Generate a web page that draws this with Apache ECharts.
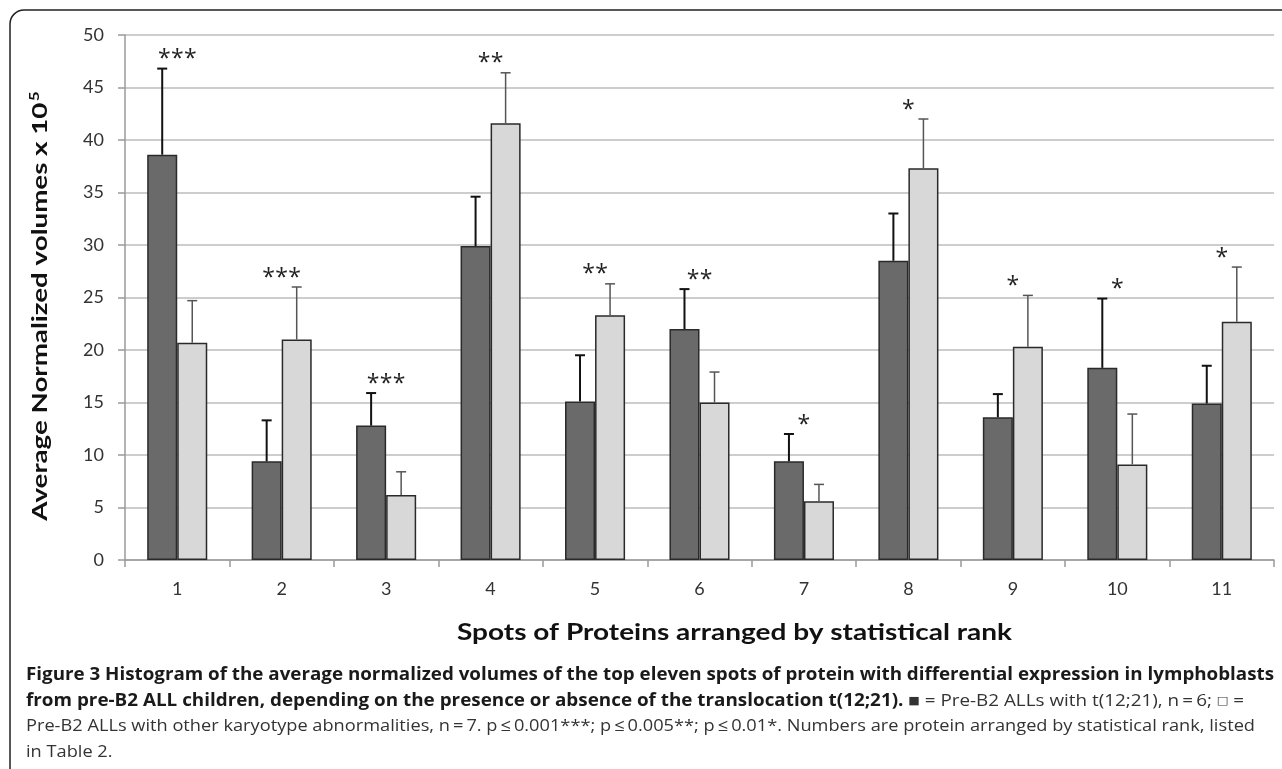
<!DOCTYPE html>
<html><head><meta charset="utf-8">
<script src="https://cdn.jsdelivr.net/npm/echarts@6/dist/echarts.min.js"></script>
<style>html,body{margin:0;padding:0;background:#fff}#c{width:1282px;height:769px}</style>
</head><body><div id="c"></div>
<script>
// ---- data ----
const categories = ['1','2','3','4','5','6','7','8','9','10','11'];
const withTranslocation      = [38.6, 9.4, 12.8, 29.9, 15.1, 22.0, 9.4, 28.5, 13.6, 18.3, 14.9];
const withTranslocationUpper = [46.8, 13.3, 15.9, 34.6, 19.5, 25.8, 12.0, 33.0, 15.8, 24.9, 18.5];
const otherAbnormalities      = [20.7, 21.0, 6.2, 41.6, 23.3, 15.0, 5.6, 37.3, 20.3, 9.1, 22.7];
const otherAbnormalitiesUpper = [24.7, 26.0, 8.4, 46.4, 26.3, 17.9, 7.2, 42.0, 25.2, 13.9, 27.9];
const significance = ['***','***','***','**','**','**','*','*','*','*','*'];
const yMin = 0, yMax = 50, yStep = 5;

const yTitle = 'Average Normalized volumes x 10';
const yTitleSup = '5';
const xTitle = 'Spots of Proteins arranged by statistical rank';
const captionLines = [
  [['b','Figure 3 Histogram of the average normalized volumes of the top eleven spots of protein with differential expression in lymphoblasts']],
  [['b','from pre-B2 ALL children, depending on the presence or absence of the translocation t(12;21).'],['r',' '],['sq','\u25A0'],['r',' = Pre-B2 ALLs with t(12;21), n\u2009=\u20096; '],['sq','\u25A1'],['r',' =']],
  [['r','Pre-B2 ALLs with other karyotype abnormalities, n\u2009=\u20097. p\u2009\u2264\u20090.001***; p\u2009\u2264\u20090.005**; p\u2009\u2264\u20090.01*. Numbers are protein arranged by statistical rank, listed']],
  [['r','in Table 2.']]
];

// ---- layout helpers ----
const GAP = 0.425;
const ctx = document.createElement('canvas').getContext('2d');
function tw(text, font){ ctx.font = font; return ctx.measureText(text).width; }
const CAP_FONTS = {
  b: 'bold 17px "Open Sans"',
  r: '17px "Open Sans"',
  sq: '11px "DejaVu Sans"'
};
function richWidth(tokens){ return tokens.reduce((s,t)=>s+tw(t[1], CAP_FONTS[t[0]]),0); }
function richText(tokens){ return tokens.map(t=>'{'+t[0]+'|'+t[1]+'}').join(''); }
const capRich = {
  b:{font:CAP_FONTS.b, fill:'#1a1a1a'},
  r:{font:CAP_FONTS.r, fill:'#333'},
  sq:{font:CAP_FONTS.sq, fill:'#333'}
};
const capX = 26;
const capTargets = [1248, 1218, 1229, null];
const capY = [675, 701, 726, 752];
let lastScale = 1;
const captionGraphics = captionLines.map((tokens, i) => {
  let s = lastScale;
  if (capTargets[i]) { s = capTargets[i] / richWidth(tokens); lastScale = s; }
  return {type:'text', x:capX, y:capY[i], scaleX:s, silent:true,
    style:{text:richText(tokens), rich:capRich, align:'left', verticalAlign:'middle'}};
});

const yFontA = 'bold 21px Lato', yFontS = 'bold 13px Lato';
const yScale = 428 / (tw(yTitle, yFontA) + tw(yTitleSup, yFontS));
const xFont = 'bold 23px Lato';
const xScale = 555 / tw(xTitle, xFont);

function errSeries(vals, uppers, side, color, lw){
  return {
    type:'custom', z:5, silent:true,
    data: vals.map((v,i)=>[i, v, uppers[i]]),
    encode:{x:0, y:[1,2]},
    renderItem(params, api){
      const i = api.value(0);
      const band = api.size([1,0])[0];
      const bw = band*(1-GAP)/2;
      const c0 = api.coord([i, api.value(1)]);
      const c1 = api.coord([i, api.value(2)]);
      const x = c0[0] + side*bw/2;
      const cap = 5;
      return {type:'group', children:[
        {type:'line', shape:{x1:x,y1:c0[1],x2:x,y2:c1[1]}, style:{stroke:color,lineWidth:lw}},
        {type:'line', shape:{x1:x-cap,y1:c1[1],x2:x+cap,y2:c1[1]}, style:{stroke:color,lineWidth:lw}}
      ]};
    }
  };
}

const STAR_STEP = 13;
const chart = echarts.init(document.getElementById('c'), null, {renderer:'canvas'});
chart.setOption({
  animation:false,
  backgroundColor:'#fff',
  grid:{left:125, right:8, top:35, bottom:209, containLabel:false},
  xAxis:{
    type:'category', data:categories,
    axisLine:{show:true, lineStyle:{color:'#9a9a9a', width:1.5}},
    axisTick:{show:true, length:7, alignWithLabel:false, lineStyle:{color:'#9a9a9a', width:1.5}},
    axisLabel:{fontFamily:'Lato', fontSize:18, color:'#333', margin:20}
  },
  yAxis:{
    type:'value', min:yMin, max:yMax, interval:yStep,
    axisLine:{show:true, lineStyle:{color:'#9a9a9a', width:1.5}},
    axisTick:{show:true, length:7, lineStyle:{color:'#9a9a9a', width:1.5}},
    axisLabel:{fontFamily:'Lato', fontSize:18, color:'#333', margin:21},
    splitLine:{show:true, lineStyle:{color:'#bdbdbd', width:1.5}}
  },
  series:[
    {type:'bar', name:'Pre-B2 ALLs with t(12;21)', data:withTranslocation,
     barGap:'0%', barCategoryGap:(GAP*100)+'%',
     itemStyle:{color:'#6a6a6a', borderColor:'#2a2a2a', borderWidth:1.5}},
    {type:'bar', name:'Pre-B2 ALLs with other karyotype abnormalities', data:otherAbnormalities,
     barGap:'0%', barCategoryGap:(GAP*100)+'%',
     itemStyle:{color:'#d8d8d8', borderColor:'#2a2a2a', borderWidth:1.5}},
    errSeries(withTranslocation, withTranslocationUpper, -1, '#111', 2),
    errSeries(otherAbnormalities, otherAbnormalitiesUpper, 1, '#555', 1.5),
    {type:'custom', z:6, silent:true,
     data: significance.map((s,i)=>[i, Math.max(withTranslocationUpper[i], otherAbnormalitiesUpper[i])]),
     encode:{x:0, y:1},
     renderItem(params, api){
       const c = api.coord([api.value(0), api.value(1)]);
       const stars = significance[params.dataIndex].split('');
       const n = stars.length;
       return {type:'group', children: stars.map((s,k)=>({
         type:'text', x:c[0] + (k-(n-1)/2)*STAR_STEP, y:c[1]-9,
         style:{text:s, font:'23px "Open Sans"', fill:'#222', align:'center', verticalAlign:'middle'}}))};
     }}
  ],
  graphic:[
    {type:'rect', silent:true, z:-10, shape:{x:10, y:10, width:1300, height:800, r:14},
     style:{fill:'none', stroke:'#222', lineWidth:1.5}},
    {type:'text', silent:true, x:40, y:306, rotation:Math.PI/2, scaleX:yScale,
     style:{text:'{a|'+yTitle+'}{s|'+yTitleSup+'}', align:'center', verticalAlign:'middle',
       rich:{a:{font:yFontA, fill:'#111', lineHeight:24}, s:{font:yFontS, fill:'#111', verticalAlign:'top', padding:[0,0,10,1]}}}},
    {type:'text', silent:true, x:734.5, y:633, scaleX:xScale,
     style:{text:xTitle, font:xFont, fill:'#111', align:'center', verticalAlign:'middle'}},
    ...captionGraphics
  ]
});
</script>
</body></html>
